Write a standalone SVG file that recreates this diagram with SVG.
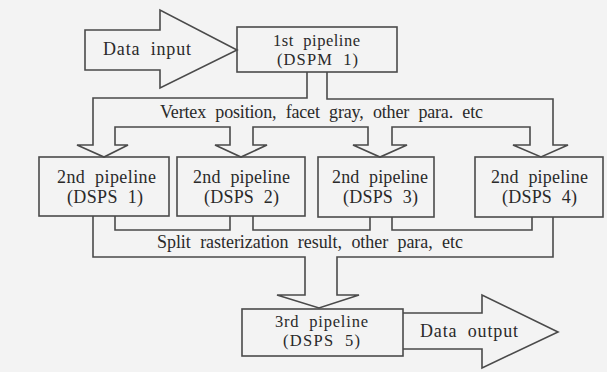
<svg xmlns="http://www.w3.org/2000/svg" width="607" height="372" viewBox="0 0 607 372">
<style>
.ln{fill:none;stroke:#4a4a4a;stroke-width:1.6;stroke-linejoin:miter}
.bx{fill:none;stroke:#4a4a4a;stroke-width:1.6}
text{font-family:"Liberation Serif","Times New Roman",serif;font-size:18px;fill:#2a2a2a;text-anchor:middle;word-spacing:5px}
.sm{font-size:16.5px}
</style>
<rect width="607" height="372" fill="#f3f3f3"/>
<g id="connectors">
<path class="ln" d="M85,30 H160 V10 L237,50 L160,88 V70 H85 Z"/>
<path class="ln" d="M307,72 V98 H93 V145 H77 L104,157 L128,145 H115 V127 H230 V145 H215 L241,157 L267,145 H253 V127 H368 V145 H353 L380,157 L407,145 H392 V127 H530 V145 H513 L541,157 L568,145 H553 V99 H327 V72"/>
<path class="ln" d="M93,216 V257 H305 V295 H277 L319,308 L359,295 H337 V257 H553 V217"/>
<path class="ln" d="M115,216 V230 H230 V216 M253,216 V230 H370 V217 M392,217 V230 H532 V217"/>
<path class="ln" d="M403,313 H482 V295 L558,332 L482,368 V349 H403"/>
</g>
<g id="data-input"><text x="147" y="55" textLength="88" lengthAdjust="spacing">Data input</text></g>
<g id="p1">
<rect class="bx" x="237" y="27" width="160" height="45"/>
<text class="sm" x="316.5" y="46" textLength="87" lengthAdjust="spacing">1st pipeline</text>
<text class="sm" x="317.5" y="65" textLength="81" lengthAdjust="spacing">(DSPM 1)</text>
</g>
<g id="label-top"><text x="321.5" y="118" textLength="323" lengthAdjust="spacing">Vertex position, facet gray, other para. etc</text></g>
<g id="s1">
<rect class="bx" x="39" y="157" width="130" height="59"/>
<text x="106.5" y="183" textLength="99" lengthAdjust="spacing">2nd pipeline</text>
<text x="105" y="203" textLength="76" lengthAdjust="spacing">(DSPS 1)</text>
</g>
<g id="s2">
<rect class="bx" x="177" y="157" width="128" height="59"/>
<text x="241.5" y="183" textLength="97" lengthAdjust="spacing">2nd pipeline</text>
<text x="241.5" y="203" textLength="75" lengthAdjust="spacing">(DSPS 2)</text>
</g>
<g id="s3">
<rect class="bx" x="318" y="157" width="116" height="60"/>
<text x="380" y="183" textLength="96" lengthAdjust="spacing">2nd pipeline</text>
<text x="380.5" y="203" textLength="75" lengthAdjust="spacing">(DSPS 3)</text>
</g>
<g id="s4">
<rect class="bx" x="475" y="157" width="128" height="60"/>
<text x="539.5" y="183" textLength="97" lengthAdjust="spacing">2nd pipeline</text>
<text x="539.5" y="203" textLength="75" lengthAdjust="spacing">(DSPS 4)</text>
</g>
<g id="label-bottom"><text x="310" y="248" textLength="306" lengthAdjust="spacing">Split rasterization result, other para, etc</text></g>
<g id="p3">
<rect class="bx" x="242" y="309" width="161" height="47"/>
<text class="sm" x="321.5" y="327" textLength="93" lengthAdjust="spacing">3rd pipeline</text>
<text class="sm" x="321.5" y="346" textLength="77" lengthAdjust="spacing">(DSPS 5)</text>
</g>
<g id="data-output"><text x="469" y="337" textLength="98" lengthAdjust="spacing">Data output</text></g>
</svg>
